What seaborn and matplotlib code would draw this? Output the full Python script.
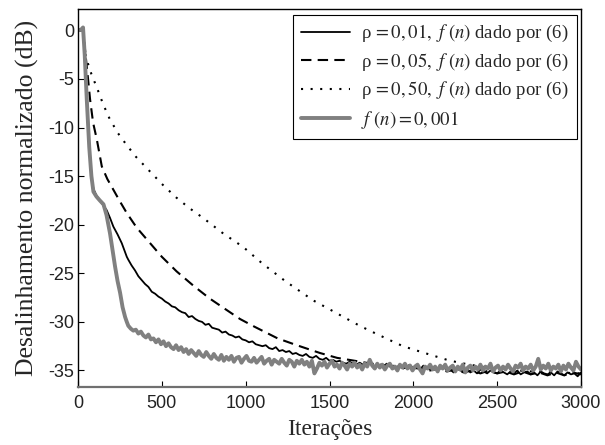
import numpy as np
import pandas as pd
import matplotlib
matplotlib.use("Agg")
import matplotlib.pyplot as plt
import seaborn as sns

# ---------------- data ----------------
# f(n) = 0.001 (gray)
gray_n_early = [0, 20, 30, 40, 52, 67, 80, 92, 110, 130, 152, 170, 191, 205, 221, 236, 251, 266, 281, 291]
gray_v_early = [0.0, 0.1, 0.3, -2.5, -7.0, -12.0, -15.0, -16.6, -17.1, -17.5, -17.9, -19.0, -20.9, -22.5,
                -24.3, -25.8, -27.0, -28.5, -29.5, -30.0]
gray_n_noisy = list(range(300, 3001, 15))
gray_v_noisy = [
    -30.4, -30.7, -30.9, -30.8, -31.2, -31.0, -31.4, -31.6, -31.3, -31.8,
    -31.7, -32.1, -31.8, -32.3, -32.0, -32.5, -32.2, -32.6, -32.8, -32.4,
    -32.9, -32.6, -33.1, -32.8, -33.3, -32.9, -33.2, -33.5, -33.0, -33.4,
    -33.6, -33.1, -33.5, -33.8, -33.3, -33.7, -33.9, -33.4, -34.0, -33.6,
    -33.9, -33.5, -34.1, -33.7, -33.6, -34.2, -33.8, -33.5, -34.0, -34.1,
    -33.7, -34.2, -33.9, -33.6, -34.3, -34.0, -33.8, -34.4, -33.9, -34.1,
    -34.3, -33.8, -34.2, -34.5, -33.9, -34.1, -34.6, -34.0, -34.3, -33.9,
    -34.4, -34.1, -34.6, -34.0, -35.3, -34.8, -34.2, -34.5, -34.1, -34.7,
    -34.3, -34.0, -34.6, -34.4, -34.8, -34.2, -34.5, -34.9, -34.3, -34.6,
    -34.2, -34.7, -34.4, -34.9, -34.3, -34.6, -33.9, -34.5, -34.8, -34.3,
    -34.7, -34.4, -34.9, -34.5, -34.3, -34.8, -34.6, -35.0, -34.4, -34.7,
    -34.3, -34.8, -34.5, -35.0, -34.6, -34.4, -34.9, -35.3, -34.6, -34.8,
    -34.4, -34.9, -34.6, -35.1, -34.5, -34.8, -34.4, -35.0, -34.7, -34.5,
    -35.1, -34.6, -34.9, -34.4, -35.2, -34.7, -34.5, -35.0, -34.6, -34.9,
    -34.4, -35.0, -34.6, -34.8, -34.3, -35.1, -34.7, -34.5, -35.0, -34.6,
    -34.9, -34.4, -34.8, -35.1, -34.5, -34.7, -34.3, -35.0, -34.6, -34.8,
    -34.4, -35.0, -34.6, -33.8, -34.9, -34.5, -34.8, -34.3, -35.0, -34.6,
    -34.8, -34.4, -35.1, -34.5, -34.9, -34.3, -34.7, -35.0, -34.1, -34.6,
    -34.9]

# rho = 0.01 (solid black)
rho001_n_early = [0, 20, 30, 40, 52, 67, 80, 92, 110, 130, 150, 171, 191, 211, 236, 261, 276, 291]
rho001_v_early = [0.0, 0.0, -0.1, -2.5, -7.0, -12.0, -15.0, -16.3, -17.0, -17.5, -18.0, -18.5, -19.3,
                  -20.2, -21.0, -21.9, -22.6, -23.3]
rho001_n_noisy = list(range(300, 3001, 20))
rho001_v_noisy = [
    -23.6, -24.2, -24.7, -25.3, -25.7, -26.1, -26.4, -26.9, -27.1, -27.4,
    -27.6, -27.9, -28.1, -28.4, -28.5, -28.8, -29.0, -29.1, -29.5, -29.4,
    -29.7, -29.9, -30.0, -30.3, -30.2, -30.6, -30.7, -30.8, -31.1, -31.0,
    -31.3, -31.4, -31.6, -31.5, -31.8, -31.9, -32.1, -32.0, -32.3, -32.4,
    -32.5, -32.4, -32.7, -32.8, -32.6, -33.0, -32.9, -33.1, -33.0, -33.3,
    -33.2, -33.4, -33.5, -33.3, -33.6, -33.7, -33.5, -33.8, -33.9, -33.7,
    -34.0, -33.9, -34.1, -34.0, -34.2, -34.3, -34.1, -34.3, -34.4, -34.2,
    -34.4, -34.5, -34.2, -34.6, -34.4, -34.5, -34.7, -34.3, -34.6, -34.5,
    -34.7, -34.5, -34.8, -34.6, -34.4, -34.8, -34.7, -34.9, -34.5, -34.8,
    -34.9, -34.7, -35.0, -34.8, -34.6, -35.0, -34.9, -35.2, -34.8, -35.0,
    -35.1, -34.8, -35.2, -35.0, -35.3, -34.9, -35.1, -35.3, -35.0, -35.2,
    -35.3, -35.0, -35.2, -35.4, -35.1, -35.3, -35.0, -35.4, -35.2, -35.1,
    -35.4, -35.2, -35.5, -35.1, -35.3, -35.4, -35.2, -35.5, -35.1, -35.3,
    -35.5, -35.2, -35.4, -35.3, -35.6, -35.2]

# rho = 0.05 (dashed)
rho005_n = [0, 30, 45, 60, 72, 90, 112, 142, 175, 211, 250, 291, 350, 410, 500, 588, 690, 786, 880, 966,
            1053, 1191, 1305, 1443, 1545, 1650, 1750, 1850, 1950, 2050, 2100, 2150, 2200, 2250, 2300,
            2350, 2400, 2450, 2500, 2550, 2600, 2650, 2700, 2750, 2800, 2850, 2900, 2950, 3000]
rho005_v = [0.0, 0.0, -2.5, -5.0, -7.1, -9.5, -11.2, -14.0, -15.3, -16.4, -17.6, -18.8, -20.3, -21.5,
            -23.3, -24.8, -26.3, -27.6, -28.7, -29.7, -30.5, -31.7, -32.4, -33.2, -33.7, -34.0, -34.3,
            -34.5, -34.7, -34.8, -35.0, -34.8, -35.1, -34.9, -35.2, -35.0, -35.3, -35.0, -35.3, -35.1,
            -35.4, -35.1, -35.4, -35.2, -35.5, -35.2, -35.5, -35.2, -35.4]

# rho = 0.50 (dotted)
rho050_n = [0, 30, 46, 80, 115, 150, 186, 235, 286, 345, 406, 500, 586, 665, 746, 866, 986, 1100, 1236,
            1320, 1404, 1500, 1584, 1680, 1764, 1850, 1938, 2030, 2124, 2200, 2274, 2400, 2550, 2700,
            2850, 3000]
rho050_v = [0.0, 0.0, -2.7, -4.5, -6.0, -7.6, -9.0, -10.5, -11.7, -13.0, -14.1, -15.8, -17.2, -18.3,
            -19.3, -20.9, -22.3, -24.0, -25.8, -26.8, -27.8, -28.7, -29.5, -30.4, -31.1, -31.8, -32.5,
            -33.0, -33.5, -33.9, -34.2, -34.6, -34.9, -35.1, -35.2, -35.3]

labels = [r"ρ$\,=0,01,\ f\ (n)$ dado por (6)",
          r"ρ$\,=0,05,\ f\ (n)$ dado por (6)",
          r"ρ$\,=0,50,\ f\ (n)$ dado por (6)",
          r"$f\ (n)=0,001$"]
xticks = [0, 500, 1000, 1500, 2000, 2500, 3000]
yticks = [0, -5, -10, -15, -20, -25, -30, -35]

# ---------------- plotting ----------------
sns.set_style("white")
plt.rcParams["font.family"] = ["Liberation Sans", "DejaVu Sans"]
plt.rcParams["mathtext.fontset"] = "stix"
plt.rcParams["axes.unicode_minus"] = False

fig = plt.figure(figsize=(6.05, 4.45), dpi=100)
ax = fig.add_axes([78 / 605, 58 / 445, 503 / 605, 378 / 445])

series = [
    (rho001_n_early + rho001_n_noisy, rho001_v_early + rho001_v_noisy, dict(color="black", lw=1.3, ls="-")),
    (rho005_n, rho005_v, dict(color="black", lw=1.5, ls=(0, (5, 3)))),
    (rho050_n, rho050_v, dict(color="black", lw=1.5, ls=(0, (1, 3.6)))),
    (gray_n_early + gray_n_noisy, gray_v_early + gray_v_noisy, dict(color="#808080", lw=2.8, ls="-")),
]
for (xs, ys, style), lab in zip(series, labels):
    df = pd.DataFrame({"n": xs, "v": ys})
    sns.lineplot(data=df, x="n", y="v", ax=ax, label=lab, estimator=None, sort=False,
                 color=style["color"], linewidth=style["lw"], linestyle=style["ls"])

ax.set_xlim(0, 3000)
ax.set_ylim(-36.7, 2.2)
ax.set_xticks(xticks)
ax.set_xticklabels([str(t) for t in xticks])
ax.set_yticks(yticks)
ax.set_yticklabels([str(t) for t in yticks])
ax.tick_params(bottom=True, left=True, top=False, right=False, direction="in", length=4,
               width=0.8, labelsize=13, colors="black", labelcolor="#222222")
ax.tick_params(axis="x", pad=5.5)
ax.tick_params(axis="y", pad=2.5)
for name, sp in ax.spines.items():
    sp.set_color("black")
    sp.set_linewidth(1.0)
ax.spines["bottom"].set_color("#707070")
ax.spines["bottom"].set_linewidth(1.6)

ax.set_xlabel("Iterações", family=["Liberation Serif"], fontsize=17, labelpad=5)
ax.set_ylabel("Desalinhamento normalizado (dB)", family=["Liberation Serif"], fontsize=18.5, labelpad=7)

leg = ax.legend(loc="upper right", bbox_to_anchor=(0.992, 0.985), frameon=True, fancybox=False,
                edgecolor="black", framealpha=1, borderaxespad=0.0,
                prop={"family": "Liberation Serif", "size": 13.5}, handlelength=2.6,
                handletextpad=0.6, labelspacing=0.4, borderpad=0.45)
leg.get_frame().set_linewidth(0.8)

fig.savefig("out.png", dpi=100)
